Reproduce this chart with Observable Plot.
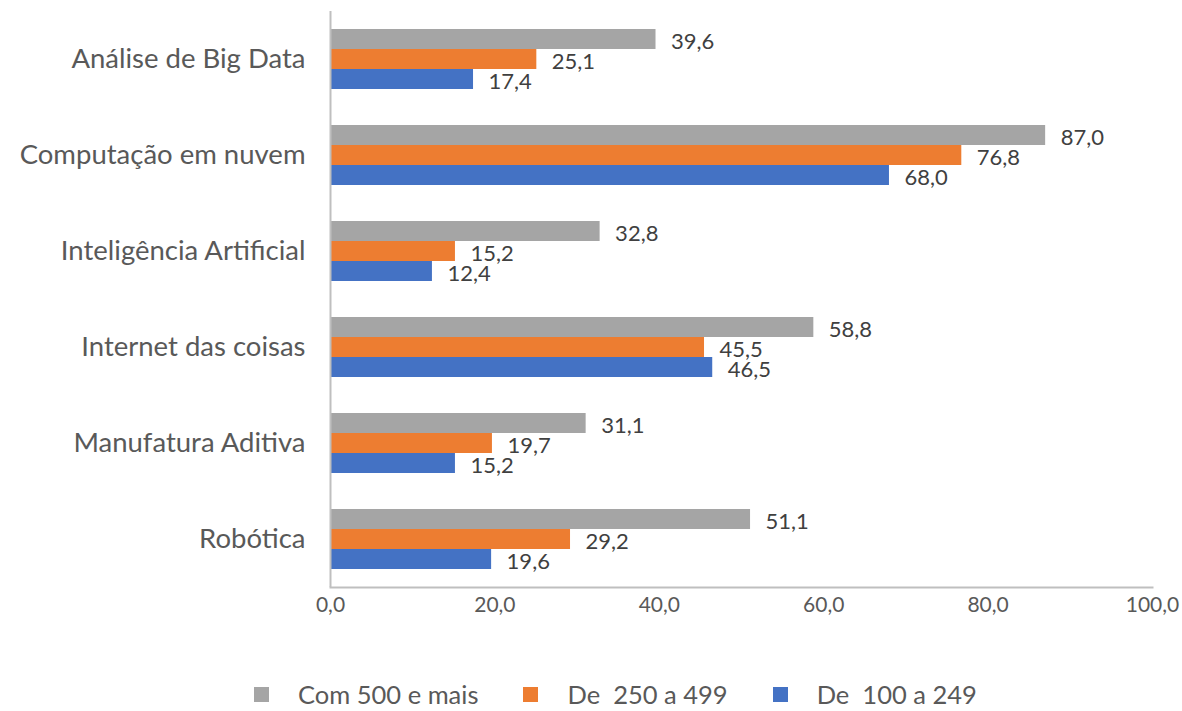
<!DOCTYPE html>
<html>
<head>
<meta charset="utf-8">
<script src="https://cdn.jsdelivr.net/npm/d3@7"></script>
<script src="https://cdn.jsdelivr.net/npm/@observablehq/plot@0.6"></script>
<style>
  body { margin: 0; background: #fff; font-family: Lato, "Open Sans", sans-serif; }
  #legend { display: flex; align-items: center; height: 24px; line-height: 24px; margin-top: 55px; margin-left: 254px; font-size: 25.5px; color: #595959; }
  #legend .sw { width: 15px; height: 15px; display: inline-block; margin-right: 29px; }
  #legend .it { display: flex; align-items: center; margin-right: 45px; white-space: pre; }
</style>
</head>
<body>
<div id="chart"></div>
<div id="legend"></div>
<script>
const categories = ["Análise de Big Data", "Computação em nuvem", "Inteligência Artificial", "Internet das coisas", "Manufatura Aditiva", "Robótica"];
const series = ["Com 500 e mais", "De  250 a 499", "De  100 a 249"];
const v500 = [39.6, 87.0, 32.8, 58.8, 31.1, 51.1];
const v250 = [25.1, 76.8, 15.2, 45.5, 19.7, 29.2];
const v100 = [17.4, 68.0, 12.4, 46.5, 15.2, 19.6];
const xTicks = [0, 20, 40, 60, 80, 100];
const colors = ["#A5A5A5", "#ED7D31", "#4472C4"];

const values = [v500, v250, v100];
const data = [];
categories.forEach((c, i) => series.forEach((s, j) => data.push({category: c, series: s, value: values[j][i]})));

const loc = d3.formatLocale({decimal: ",", thousands: ".", grouping: [3], currency: ["R$", ""]});
const fmt = loc.format(".1f");

const chart = Plot.plot({
  width: 1182,
  height: 627,
  marginLeft: 330,
  marginRight: 30,
  marginTop: 11,
  marginBottom: 40,
  style: {fontFamily: "Lato, 'Open Sans', sans-serif", background: "#fff"},
  x: {domain: [0, 100]},
  y: {domain: series, axis: null, paddingInner: 0, paddingOuter: 0.9},
  fy: {domain: categories, padding: 0},
  color: {domain: series, range: colors},
  marks: [
    Plot.barX(data, {x: "value", y: "series", fy: "category", fill: "series"}),
    Plot.text(data, {x: "value", y: "series", fy: "category", text: d => fmt(d.value), textAnchor: "start", dx: 15, dy: 2, fontSize: 22, fill: "#404040"}),
    Plot.ruleX([0], {stroke: "#bfbfbf", strokeWidth: 2}),
    Plot.frame({anchor: "bottom", facetAnchor: "bottom", stroke: "#bfbfbf", strokeWidth: 2}),
    Plot.axisFy({anchor: "left", label: null, tickSize: 0, tickPadding: 25, fontSize: 27.5, color: "#595959"}),
    Plot.axisX({ticks: xTicks, tickFormat: fmt, label: null, tickSize: 0, tickPadding: 10, fontSize: 21, color: "#595959"})
  ]
});
document.getElementById("chart").appendChild(chart);

const lg = document.getElementById("legend");
series.forEach((s, j) => {
  const it = document.createElement("div");
  it.className = "it";
  const sw = document.createElement("span");
  sw.className = "sw";
  sw.style.background = colors[j];
  const t = document.createElement("span");
  t.textContent = s;
  it.appendChild(sw);
  it.appendChild(t);
  lg.appendChild(it);
});
</script>
</body>
</html>
